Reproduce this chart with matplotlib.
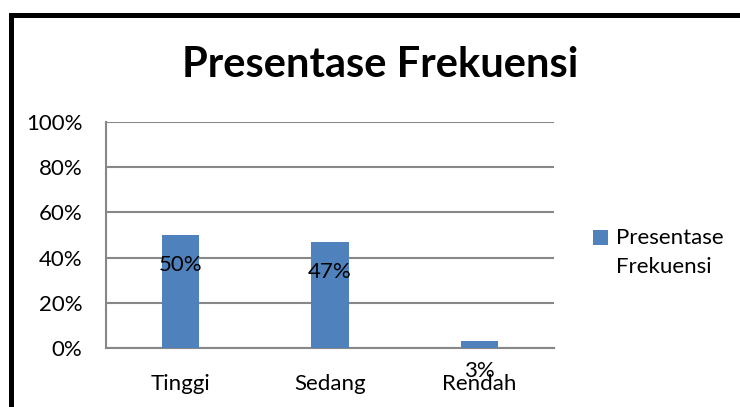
import matplotlib
matplotlib.use('Agg')
import matplotlib.pyplot as plt
from matplotlib.patches import Rectangle
from matplotlib.legend_handler import HandlerPatch
from matplotlib.ticker import FuncFormatter

categories = ['Tinggi', 'Sedang', 'Rendah']
percentages = [50, 47, 3]
series_name = 'Presentase\nFrekuensi'
title = 'Presentase Frekuensi'

bar_color = '#4F81BD'
grid_color = '#878787'

plt.rcParams['font.family'] = ['Lato', 'DejaVu Sans']

fig = plt.figure(figsize=(7.4, 4.07), dpi=100)
ax = fig.add_axes([0.1432, 0.145, 0.6054, 0.5553])

x = range(len(categories))
bars = ax.bar(x, percentages, width=0.25, color=bar_color, zorder=3)

# data labels sit a fixed distance below the top of each bar
for xi, val in zip(x, percentages):
    ax.annotate(f'{val}%', (xi, val), xytext=(0, -30), textcoords='offset pixels',
                ha='center', va='center', fontsize=16, color='black', zorder=4)

ax.set_xlim(-0.5, 2.5)
ax.set_ylim(0, 100)
ax.set_yticks(range(0, 101, 20))
ax.yaxis.set_major_formatter(FuncFormatter(lambda v, p: f'{int(v)}%'))
ax.set_xticks(list(x))
ax.set_xticklabels(categories)
ax.tick_params(axis='both', length=0, labelsize=16, colors='black')
ax.tick_params(axis='y', pad=17)
ax.tick_params(axis='x', pad=19)
ax.grid(axis='y', color=grid_color, linewidth=1.5, zorder=0)
for s in ['top', 'right']:
    ax.spines[s].set_visible(False)
for s in ['left', 'bottom']:
    ax.spines[s].set_color(grid_color)
    ax.spines[s].set_linewidth(1.5)

fig.text(0.514, 0.84, title, ha='center', va='center', fontsize=30, fontweight='bold')


# legend square lines up with the first text line, like excel does
def top_square(legend, orig_handle, xdescent, ydescent, width, height, fontsize):
    return Rectangle((-xdescent, -ydescent + 10.8), width, height)


leg = ax.legend([bars[0]], [series_name], loc='upper left', bbox_to_anchor=(1.067, 0.57),
                frameon=False, fontsize=16, handlelength=0.7, handleheight=0.7,
                handletextpad=0.35, borderaxespad=0,
                handler_map={bars[0]: HandlerPatch(patch_func=top_square)})
for t in leg.get_texts():
    t.set_linespacing(1.55)

# black frame, cut off at right and bottom like the screenshot
fig.patches.append(Rectangle((10.5 / 740, -0.1), 1.2, 1 - 15 / 407 + 0.1,
                             transform=fig.transFigure, fill=False,
                             edgecolor='black', linewidth=3.6))

fig.savefig('out.png', dpi=100)
